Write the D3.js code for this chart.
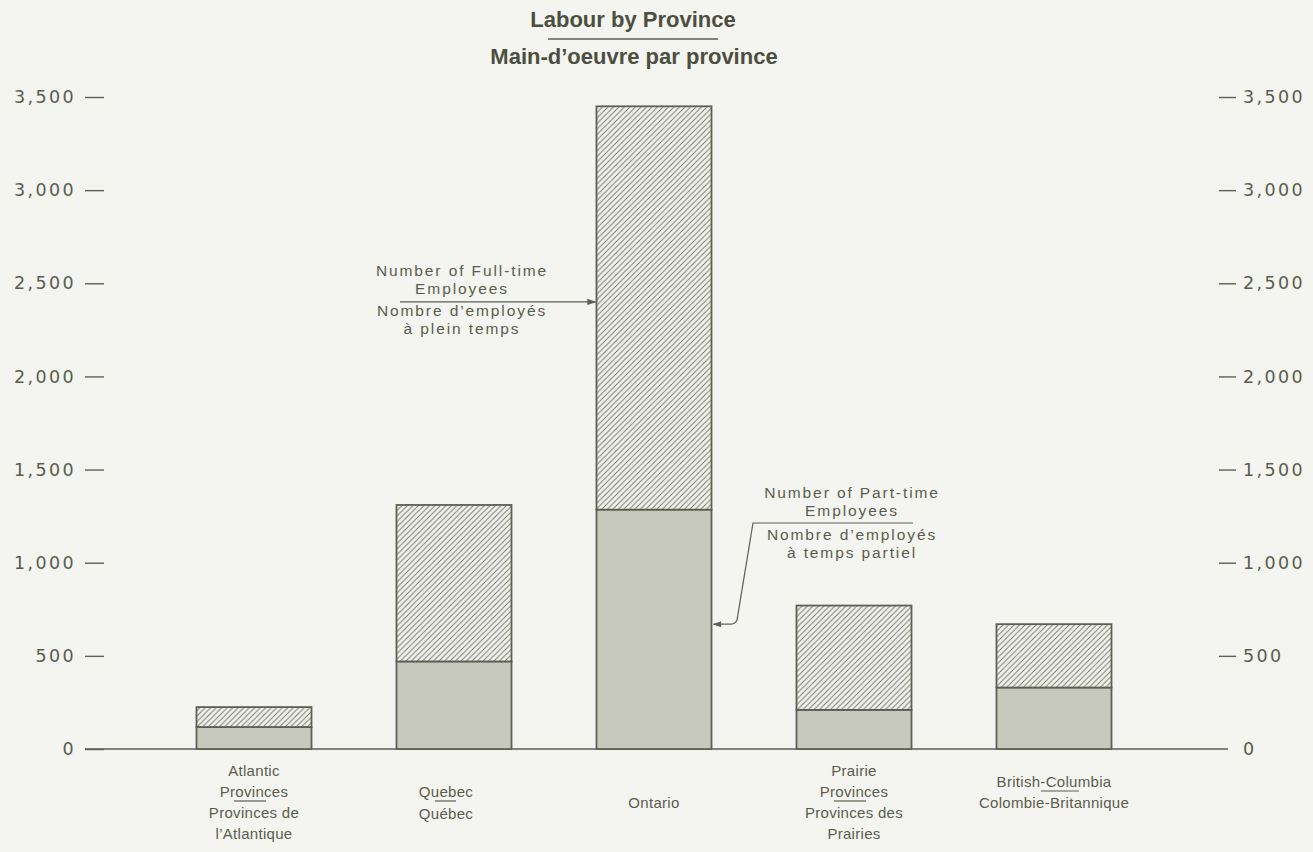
<!DOCTYPE html>
<html>
<head>
<meta charset="utf-8">
<script src="https://cdn.jsdelivr.net/npm/d3@7/dist/d3.min.js"></script>
<style>
  html, body { margin: 0; padding: 0; background: #f4f4f0; }
  svg { display: block; }
</style>
</head>
<body>
<svg id="chart" width="1313" height="852"></svg>
<script>
// ---- data ----
const categories = ["Atlantic", "Quebec", "Ontario", "Prairie", "BC"];
const partTime = [118, 470, 1285, 210, 330];
const fullTime = [107, 840, 2165, 560, 340];
const tickValues = [0, 500, 1000, 1500, 2000, 2500, 3000, 3500];
const categoryLabels = [
  { top: ["Atlantic", "Provinces"], bottom: ["Provinces de", "l’Atlantique"] },
  { top: ["Quebec"], bottom: ["Québec"] },
  { top: ["Ontario"], bottom: [] },
  { top: ["Prairie", "Provinces"], bottom: ["Provinces des", "Prairies"] },
  { top: ["British-Columbia"], bottom: ["Colombie-Britannique"] }
];
const titleLines = ["Labour by Province", "Main-d’oeuvre par province"];
const fullTimeNote = { en: ["Number of Full-time", "Employees"], fr: ["Nombre d’employés", "à plein temps"] };
const partTimeNote = { en: ["Number of Part-time", "Employees"], fr: ["Nombre d’employés", "à temps partiel"] };

// ---- setup ----
const svg = d3.select("#chart");
const ink = "#5a5d4d";
const barStroke = "#5d6152";

const y = d3.scaleLinear().domain([0, 3500]).range([749, 97]);
const x = d3.scaleBand().domain(categories).range([154, 1154]).paddingInner(0.425).paddingOuter(0.2125);

const defs = svg.append("defs");
const pat = defs.append("pattern").attr("id", "hatch").attr("patternUnits", "userSpaceOnUse")
  .attr("width", 5.5).attr("height", 5.5);
pat.append("rect").attr("width", 5.5).attr("height", 5.5).attr("fill", "#f2f2ee");
pat.append("path").attr("d", "M-1,1 l2,-2 M0,5.5 l5.5,-5.5 M4.5,6.5 l2,-2")
  .attr("stroke", "#7a7c70").attr("stroke-width", 1.05);
defs.append("marker").attr("id", "arrow").attr("viewBox", "0 0 10 10").attr("refX", 9).attr("refY", 5)
  .attr("markerWidth", 9).attr("markerHeight", 7).attr("orient", "auto-start-reverse")
  .append("path").attr("d", "M0,1.5 L10,5 L0,8.5 Z").attr("fill", "#5d6152");

// ---- title ----
const title = svg.append("g").attr("fill", "#4c4f40").attr("font-family", "Liberation Sans, Arial, sans-serif")
  .attr("font-weight", "bold").attr("font-size", 22).attr("text-anchor", "middle");
title.append("text").attr("x", 633).attr("y", 27).text(titleLines[0]);
title.append("line").attr("x1", 548).attr("x2", 718).attr("y1", 39).attr("y2", 39)
  .attr("stroke", "#5d6152").attr("stroke-width", 1.3);
title.append("text").attr("x", 634).attr("y", 64).text(titleLines[1]);

// ---- axes ----
const fmt = d3.format(",");
const axisStyle = g => {
  g.select(".domain").remove();
  g.selectAll(".tick line").attr("stroke", "#5d6152").attr("stroke-width", 1.4);
  g.selectAll(".tick text").attr("fill", ink).attr("font-family", "DejaVu Sans, sans-serif")
    .attr("font-size", 17.5).attr("letter-spacing", 2.4);
};
svg.append("g").attr("transform", "translate(104,0)")
  .call(d3.axisLeft(y).tickValues(tickValues).tickFormat(fmt).tickSize(19).tickPadding(9))
  .call(axisStyle);
svg.append("g").attr("transform", "translate(1219,0)")
  .call(d3.axisRight(y).tickValues(tickValues).tickFormat(fmt).tickSize(17).tickPadding(7))
  .call(axisStyle)
  .call(g => g.selectAll(".tick").filter(d => d === 0).select("line").remove());

// baseline
svg.append("line").attr("x1", 85).attr("x2", 1228).attr("y1", y(0)).attr("y2", y(0))
  .attr("stroke", "#5d6152").attr("stroke-width", 1.5);

// ---- bars ----
const bars = svg.append("g");
bars.selectAll("rect.pt").data(categories).join("rect").attr("class", "pt")
  .attr("x", d => x(d)).attr("width", x.bandwidth())
  .attr("y", (d, i) => y(partTime[i])).attr("height", (d, i) => y(0) - y(partTime[i]))
  .attr("fill", "#c7c9be").attr("stroke", barStroke).attr("stroke-width", 1.8);
bars.selectAll("rect.ft").data(categories).join("rect").attr("class", "ft")
  .attr("x", d => x(d)).attr("width", x.bandwidth())
  .attr("y", (d, i) => y(partTime[i] + fullTime[i])).attr("height", (d, i) => y(partTime[i]) - y(partTime[i] + fullTime[i]))
  .attr("fill", "url(#hatch)").attr("stroke", barStroke).attr("stroke-width", 1.8);

// ---- category labels ----
const lab = svg.append("g").attr("fill", ink).attr("font-family", "Liberation Sans, Arial, sans-serif")
  .attr("font-size", 15).attr("letter-spacing", 0.3).attr("text-anchor", "middle");
categoryLabels.forEach((c, i) => {
  const cx = x(categories[i]) + x.bandwidth() / 2;
  const nLines = c.top.length + c.bottom.length;
  let startY = nLines === 4 ? 776 : nLines === 2 ? 787 : 808;
  if (categories[i] === "Quebec") {
    lab.append("text").attr("x", cx - 8).attr("y", 797).text(c.top[0]);
    lab.append("line").attr("x1", cx - 19).attr("x2", cx + 2).attr("y1", 801).attr("y2", 801).attr("stroke", ink).attr("stroke-width", 1.2);
    lab.append("text").attr("x", cx - 8).attr("y", 819).text(c.bottom[0]);
    return;
  }
  let yy = startY;
  c.top.forEach(t => { lab.append("text").attr("x", cx).attr("y", yy).text(t); yy += 21; });
  if (c.bottom.length) {
    const sepY = yy - 17;
    const w = categories[i] === "BC" ? 38 : 32;
    const off = categories[i] === "BC" ? 6 : -4;
    lab.append("line").attr("x1", cx + off - w / 2).attr("x2", cx + off + w / 2).attr("y1", sepY).attr("y2", sepY)
      .attr("stroke", ink).attr("stroke-width", 1.2);
  }
  c.bottom.forEach(t => { lab.append("text").attr("x", cx).attr("y", yy).text(t); yy += 21; });
});

// ---- annotations ----
const note = svg.append("g").attr("fill", ink).attr("font-family", "Liberation Sans, Arial, sans-serif")
  .attr("font-size", 15.5).attr("letter-spacing", 1.9).attr("text-anchor", "middle");
// full-time
const ftTipX = x("Ontario") - 1, ftTipY = y(2400);
note.append("text").attr("x", 462).attr("y", ftTipY - 26).text(fullTimeNote.en[0]);
note.append("text").attr("x", 462).attr("y", ftTipY - 8).text(fullTimeNote.en[1]);
note.append("line").attr("x1", 400).attr("x2", ftTipX).attr("y1", ftTipY).attr("y2", ftTipY)
  .attr("stroke", "#5d6152").attr("stroke-width", 1.3).attr("marker-end", "url(#arrow)");
note.append("text").attr("x", 462).attr("y", ftTipY + 14).text(fullTimeNote.fr[0]);
note.append("text").attr("x", 462).attr("y", ftTipY + 32).text(fullTimeNote.fr[1]);
// part-time
const ptTipX = x("Ontario") + x.bandwidth() + 2, ptTipY = y(670);
note.append("text").attr("x", 852).attr("y", 498).text(partTimeNote.en[0]);
note.append("text").attr("x", 852).attr("y", 516).text(partTimeNote.en[1]);
note.append("path").attr("d", `M913,523 L753,523 L737,${ptTipY - 4} Q735,${ptTipY} 730,${ptTipY} L${ptTipX},${ptTipY}`)
  .attr("fill", "none").attr("stroke", "#5d6152").attr("stroke-width", 1.2).attr("marker-end", "url(#arrow)");
note.append("text").attr("x", 852).attr("y", 540).text(partTimeNote.fr[0]);
note.append("text").attr("x", 852).attr("y", 558).text(partTimeNote.fr[1]);
</script>
</body>
</html>
